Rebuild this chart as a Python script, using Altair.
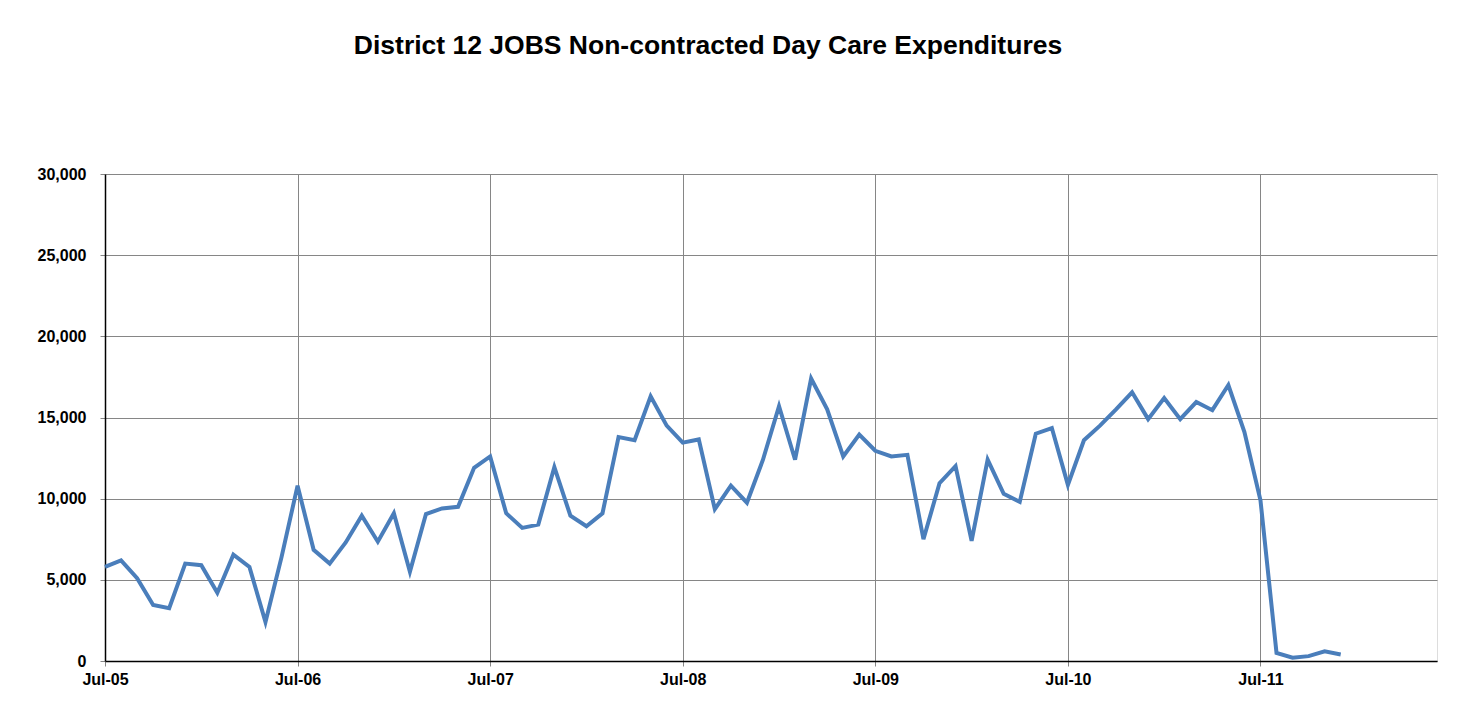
import altair as alt
import pandas as pd

# Monthly expenditures, Jul-05 onward (index 0 = Jul-05)
values = [
    5800, 6200, 5100, 3450, 3250, 6000, 5900, 4200, 6550, 5800, 2400, 6400,
    10800, 6850, 6000, 7300, 8950, 7350, 9100, 5500, 9050, 9400, 9500, 11900,
    12600, 9100, 8200, 8400, 11950, 8950, 8300, 9100, 13800, 13600, 16300, 14500,
    13450, 13650, 9350, 10800, 9750, 12400, 15700, 12400, 17400, 15500, 12600, 13950,
    12950, 12600, 12700, 7500, 10950, 12000, 7400, 12400, 10300, 9800, 14000, 14350,
    10850, 13600, 14500, 15500, 16550, 14900, 16200, 14900, 15950, 15450, 17000, 14100,
    9900, 500, 200, 300, 600, 400,
]
month_index = list(range(len(values)))
tick_labels = ["Jul-05", "Jul-06", "Jul-07", "Jul-08", "Jul-09", "Jul-10", "Jul-11"]
tick_values = [0, 12, 24, 36, 48, 60, 72]
y_ticks = [0, 5000, 10000, 15000, 20000, 25000, 30000]
n_months = 84

df = pd.DataFrame({"m": month_index, "v": values})

label_expr = "[" + ",".join(f"'{t}'" for t in tick_labels) + "][round(datum.value/12)]"

chart = (
    alt.Chart(df)
    .mark_line(color="#4A7EBB", strokeWidth=4)
    .encode(
        x=alt.X(
            "m:Q",
            scale=alt.Scale(domain=[0, n_months - 1], nice=False, zero=False),
            axis=alt.Axis(
                values=tick_values,
                labelExpr=label_expr,
                labelFlush=False,
                title=None,
                grid=True,
                gridColor="#868686",
                domainColor="#000000",
                domainWidth=1.5,
                tickColor="#868686",
                tickSize=5,
                labelFont="Liberation Sans",
                labelFontWeight="bold",
                labelFontSize=16,
                labelColor="#000000",
                labelPadding=5,
            ),
        ),
        y=alt.Y(
            "v:Q",
            scale=alt.Scale(domain=[0, 30000], nice=False),
            axis=alt.Axis(
                values=y_ticks,
                format=",.0f",
                title=None,
                grid=True,
                gridColor="#868686",
                domainColor="#000000",
                domainWidth=1.5,
                tickColor="#868686",
                tickSize=5,
                labelFont="Liberation Sans",
                labelFontWeight="bold",
                labelFontSize=16,
                labelColor="#000000",
                labelPadding=14,
            ),
        ),
    )
    .properties(
        width=1332,
        height=487,
        autosize=alt.AutoSizeParams(type="none"),
        padding={"left": 97, "top": 166, "right": 29, "bottom": 44},
        title=alt.TitleParams(
            "District 12 JOBS Non-contracted Day Care Expenditures",
            font="Liberation Sans",
            fontSize=26.5,
            fontWeight="bold",
            color="#000000",
            anchor="middle",
            dx=-63,
            offset=107,
        ),
    )
    .configure_view(stroke=None)
    .configure(background="#ffffff")
)

chart.save("out.html", embed_options={"renderer": "svg", "actions": False})
